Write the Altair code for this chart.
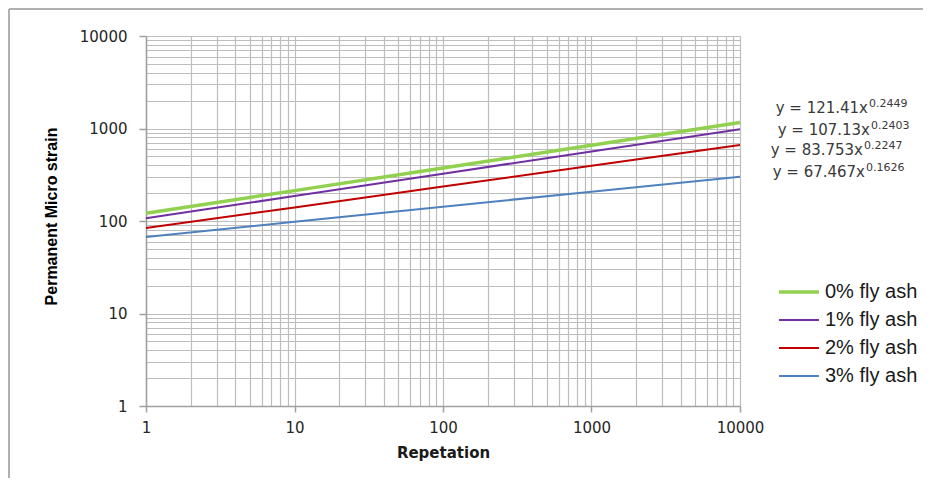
import altair as alt
import pandas as pd

# ---- data ----
repetition = [1, 10, 100, 1000, 10000]
series = ["0% fly ash", "1% fly ash", "2% fly ash", "3% fly ash"]
strain_0 = [121, 213, 375, 660, 1160]
strain_1 = [107, 186, 325, 565, 980]
strain_2 = [84, 140, 236, 395, 662]
strain_3 = [67, 98, 143, 207, 301]
colors = ["#92D050", "#7030A0", "#C00000", "#4F81BD"]
eq_base = ["y = 121.41x", "y = 107.13x", "y = 83.753x", "y = 67.467x"]
eq_exp = ["0.2449", "0.2403", "0.2247", "0.1626"]
decades = [1, 10, 100, 1000, 10000]
grid_vals = [m * d for d in [1, 10, 100, 1000] for m in range(1, 10)] + [10000]

rows = []
for name, vals in zip(series, [strain_0, strain_1, strain_2, strain_3]):
    for x, y in zip(repetition, vals):
        rows.append({"series": name, "rep": x, "strain": y})
df = pd.DataFrame(rows)

W, H = 594, 370
GRID = "#bdbdbd"
AXC = "#a0a0a0"
LABEL_FONT = "DejaVu Sans"
dec_test = "indexof([1,10,100,1000,10000], datum.value) >= 0"
thick_test = f"datum.value === '{series[0]}'"

x_axis = alt.Axis(
    values=grid_vals, grid=True, gridColor=GRID, gridWidth=1.2,
    domainColor=AXC, domainWidth=1.5, tickColor=AXC, tickWidth=1.5, tickSize=6,
    tickOpacity={"condition": {"test": dec_test, "value": 1}, "value": 0},
    format="d", labelExpr=f"{dec_test} ? datum.label : ''",
    labelOverlap=False, labelFlush=False, labelFont=LABEL_FONT, labelFontSize=15,
    labelColor="#262626", labelPadding=8,
    title="Repetation", titleFont="DejaVu Sans", titleFontSize=15, titleFontWeight="bold",
    titleColor="#1a1a1a", titleX=W / 2, titleY=51, titleBaseline="alphabetic", titleAlign="center",
)
y_axis = alt.Axis(
    values=grid_vals, grid=True, gridColor=GRID, gridWidth=1.2,
    domainColor=AXC, domainWidth=1.5, tickColor=AXC, tickWidth=1.5, tickSize=7,
    tickOpacity={"condition": {"test": dec_test, "value": 1}, "value": 0},
    format="d", labelExpr=f"{dec_test} ? datum.label : ''",
    labelOverlap=False, labelFlush=False, labelFont=LABEL_FONT, labelFontSize=15,
    labelColor="#262626", labelPadding=12,
    title="Permanent Micro strain", titleFont="Liberation Sans Narrow, Arial Narrow, Liberation Sans",
    titleFontSize=16, titleFontWeight="bold", titleColor="#000000",
    titleX=-90, titleY=180, titleBaseline="alphabetic", titleAlign="center", titleAngle=270,
)

legend = alt.Legend(
    title=None, orient="none", legendX=643, legendY=246,
    symbolType="M-2.35,0H2.35", symbolSize=289, symbolFillColor="transparent",
    symbolStrokeWidth={"expr": f"{thick_test} ? 3.5 : 2"},
    labelFont="Liberation Sans", labelFontSize=20, labelColor="#1a1a1a",
    rowPadding=8, labelOffset=16, padding=0, labelLimit=500,
)

lines = alt.Chart(df).mark_line().encode(
    x=alt.X("rep:Q", scale=alt.Scale(type="log", domain=[1, 10000], nice=False), axis=x_axis),
    y=alt.Y("strain:Q", scale=alt.Scale(type="log", domain=[1, 10000], nice=False), axis=y_axis),
    color=alt.Color("series:N", scale=alt.Scale(domain=series, range=colors), legend=legend),
    strokeWidth=alt.condition(f"datum.series === '{series[0]}'", alt.value(3.5), alt.value(2)),
    order=alt.Order("rep:Q"),
)

one = alt.Data(values=[{"k": 1}])
frame_top = alt.Chart(one).mark_rule(color="#b0b0b0", strokeWidth=2).encode(
    x=alt.value(-137), x2=alt.value(800), y=alt.value(-27)
)
frame_left = alt.Chart(one).mark_rule(color="#b0b0b0", strokeWidth=2).encode(
    x=alt.value(-137), y=alt.value(-27), y2=alt.value(460)
)

layers = [lines, frame_top, frame_left]
eq_join = [722, 724, 717, 719]
eq_y = [77, 99, 119, 141]
for base, exp, jx, by in zip(eq_base, eq_exp, eq_join, eq_y):
    layers.append(
        alt.Chart(one).mark_text(align="right", baseline="alphabetic", font=LABEL_FONT,
                                 fontSize=15, color="#3a3a3a").encode(
            x=alt.value(jx), y=alt.value(by), text=alt.value(base))
    )
    layers.append(
        alt.Chart(one).mark_text(align="left", baseline="alphabetic", font=LABEL_FONT,
                                 fontSize=11, color="#3a3a3a").encode(
            x=alt.value(jx + 1), y=alt.value(by - 6), text=alt.value(exp))
    )

chart = alt.layer(*layers).properties(
    width=W, height=H,
    autosize=alt.AutoSizeParams(type="none"),
    padding={"left": 138, "top": 28, "right": 183, "bottom": 72},
    background="white",
).configure_view(stroke=None)

chart.save("out.html", embed_options={"renderer": "svg", "actions": False})
